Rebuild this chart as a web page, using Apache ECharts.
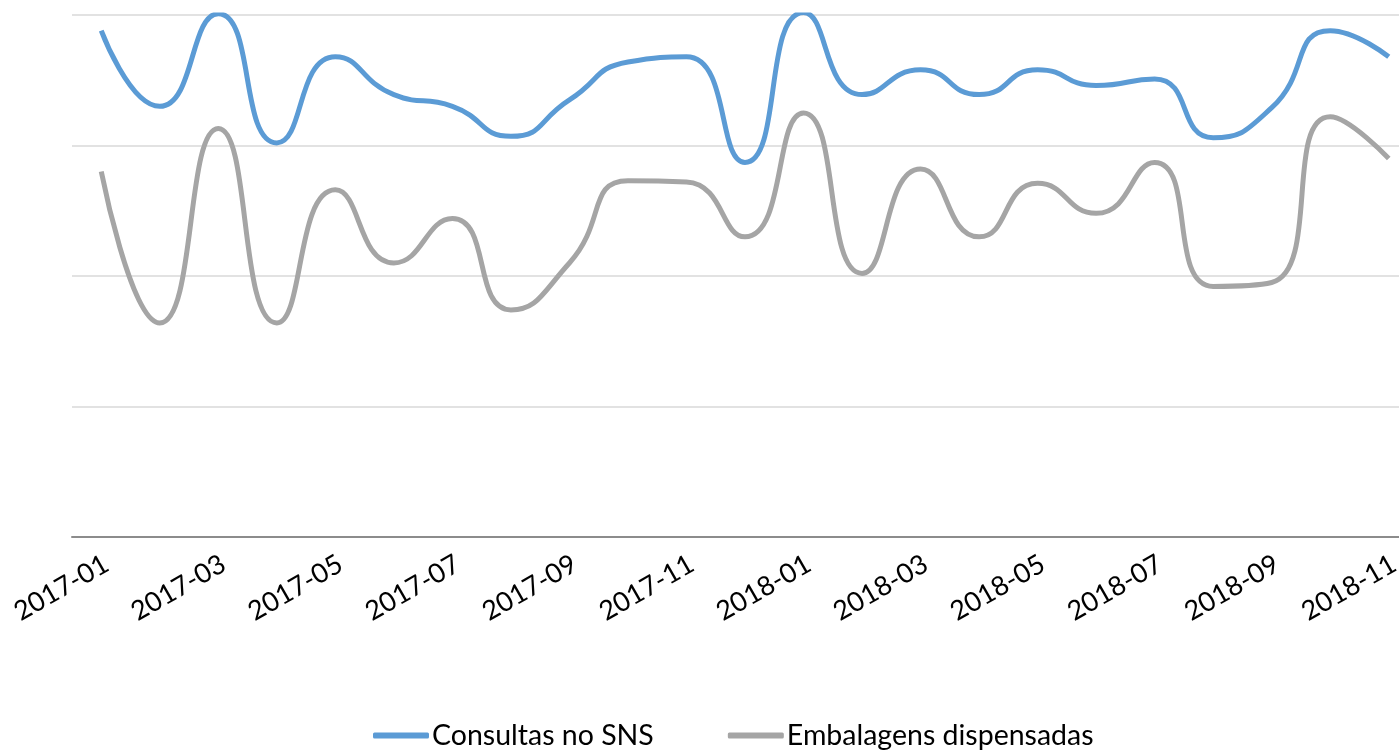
<!DOCTYPE html>
<html lang="pt">
<head>
    <meta charset="UTF-8">
    <title>Consultas no SNS / Embalagens dispensadas</title>
    <script type="text/javascript" src="https://cdn.jsdelivr.net/npm/echarts@6/dist/echarts.min.js"></script>
</head>
<style>
    html, body {
        margin: 0;
        padding: 0;
        overflow: hidden;
        background-color: #fff;
    }
    /* a figura original está cortada à direita: o gráfico é mais largo que a janela */
    #chart {
        width: 1420px;
        height: 751px;
    }
</style>
<body>
<div id="chart"></div>
</body>
<script>
    // meses (eixo x)
    var meses = ['2017-01', '2017-02', '2017-03', '2017-04', '2017-05', '2017-06', '2017-07', '2017-08',
        '2017-09', '2017-10', '2017-11', '2017-12', '2018-01', '2018-02', '2018-03', '2018-04',
        '2018-05', '2018-06', '2018-07', '2018-08', '2018-09', '2018-10', '2018-11'];

    // valores (escala relativa, sem rótulos no eixo y)
    var consultas = [3.88, 3.30, 4.01, 3.02, 3.68, 3.39, 3.30, 3.07, 3.35, 3.64, 3.68, 2.87,
        4.02, 3.39, 3.58, 3.39, 3.58, 3.46, 3.51, 3.06, 3.29, 3.88, 3.68];
    var embalagens = [2.80, 1.64, 3.13, 1.64, 2.66, 2.10, 2.44, 1.74, 2.10, 2.73, 2.72, 2.30,
        3.25, 2.02, 2.82, 2.30, 2.71, 2.48, 2.87, 1.92, 1.95, 3.22, 2.90];

    var nomes = ['Consultas no SNS', 'Embalagens dispensadas'];

    var myChart = echarts.init(document.getElementById('chart'));

    var option = {
        animation: false,
        textStyle: {
            fontFamily: 'Lato'
        },
        grid: {
            left: 72,
            top: 15,
            right: 2,
            bottom: 214
        },
        legend: {
            data: nomes,
            left: 373,
            top: 721,
            padding: 0,
            icon: 'roundRect',
            itemWidth: 56,
            itemHeight: 6,
            itemGap: 74,
            textStyle: {
                fontSize: 28.5,
                color: '#000',
                fontFamily: 'Lato',
                padding: [0, 0, 0, -2]
            }
        },
        xAxis: {
            type: 'category',
            data: meses,
            boundaryGap: true,
            axisLine: {
                lineStyle: {
                    color: '#8c8c8c',
                    width: 2
                }
            },
            axisTick: {show: false},
            axisLabel: {
                interval: 1,
                rotate: 30,
                margin: 28,
                fontSize: 27,
                color: '#000',
                fontFamily: 'Lato',
                padding: [0, -6, 0, 0]
            }
        },
        yAxis: {
            type: 'value',
            min: 0,
            max: 4,
            interval: 1,
            axisLabel: {show: false},
            axisLine: {show: false},
            axisTick: {show: false},
            splitLine: {
                lineStyle: {
                    color: '#d9d9d9',
                    width: 1.5
                }
            }
        },
        series: [
            {
                name: nomes[0],
                type: 'line',
                data: consultas,
                smooth: 0.55,
                symbol: 'none',
                lineStyle: {width: 5, color: '#5b9bd5'},
                itemStyle: {color: '#5b9bd5'}
            },
            {
                name: nomes[1],
                type: 'line',
                data: embalagens,
                smooth: 0.55,
                symbol: 'none',
                lineStyle: {width: 5, color: '#a5a5a5'},
                itemStyle: {color: '#a5a5a5'}
            }
        ]
    };
    myChart.setOption(option);
</script>
</html>
